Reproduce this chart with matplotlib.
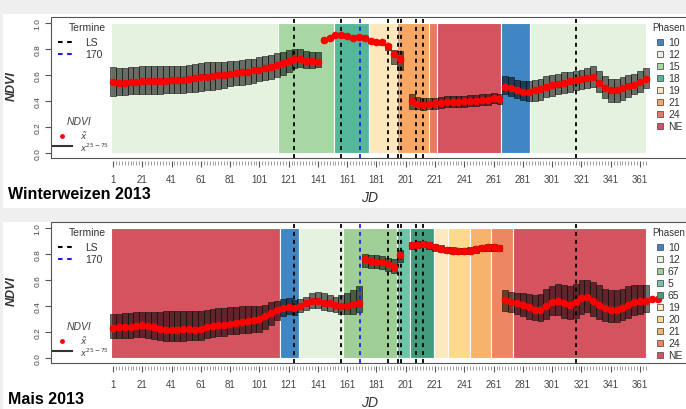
import numpy as np
import matplotlib
matplotlib.use("Agg")
import matplotlib.pyplot as plt
from matplotlib.patches import Rectangle
from matplotlib.lines import Line2D

# --- data ---------------------------------------------------------------
days = list(range(1, 366, 4))

ww_median = [.545, .54, .54, .545, .545, .55, .55, .55, .555, .555, .56, .56, .56, .565, .575, .58, .585, .59,
             .595, .60, .61, .615, .62, .625, .635, .64, .65, .66, .675, .69, .705, .725, .72, .71, .705, .70,
             .87, .885, .905, .91, .895, .885, .89, .88, .86, .855, .85, .82, .76, .72,
             np.nan,
             .40, .375, .37, .375, .38, .385, .39, .39, .39, .395, .40, .40, .405, .41, .42, .415,
             .51, .50, .48, .47, .47, .48, .49, .51, .52, .53, .54, .55, .56, .565, .575, .58, .54, .50, .48, .48,
             .50, .515, .52, .545, .57]
ww_q75 = [.66, .655, .655, .66, .66, .665, .665, .665, .665, .67, .67, .67, .67, .675, .685, .69, .695, .70,
          .70, .70, .705, .71, .715, .72, .725, .735, .745, .755, .765, .775, .79, .80, .80, .78, .775, .775,
          .885, .90, .92, .925, .91, .90, .905, .895, .875, .87, .865, .84, .79, .78,
          np.nan,
          .45, .43, .42, .42, .425, .43, .435, .44, .44, .44, .445, .445, .45, .455, .46, .455,
          .59, .58, .56, .55, .555, .56, .57, .59, .60, .61, .62, .625, .63, .64, .655, .665, .63, .59, .57, .57,
          .585, .60, .61, .63, .65]
ww_q25 = [.44, .445, .445, .45, .45, .45, .45, .455, .455, .46, .46, .46, .46, .465, .47, .475, .48, .485,
          .49, .50, .515, .52, .525, .53, .54, .55, .56, .57, .585, .60, .62, .655, .66, .655, .655, .66,
          .855, .87, .89, .895, .88, .87, .875, .865, .845, .84, .83, .79, .68, .64,
          np.nan,
          .34, .335, .33, .335, .34, .345, .35, .35, .35, .355, .36, .36, .365, .37, .38, .375,
          .45, .44, .42, .41, .40, .40, .41, .43, .44, .45, .46, .47, .48, .49, .50, .51, .47, .42, .39, .39,
          .41, .43, .45, .47, .50]

mais_median = [.23, .235, .235, .24, .245, .25, .245, .235, .225, .215, .215, .215, .22, .22, .215, .22, .235,
               .245, .25, .255, .26, .27, .275, .28, .29, .30, .32, .345, .37, .385, .39, .385, .40, .425, .44,
               .435, .425, .42, .41, .40, .40, .415, .425,
               .76, .745, .74, .735, .72, .70, .79,
               np.nan,
               .865, .87, .875, .865, .85, .84, .83, .825, .82, .82, .825, .835, .845, .85, .85, .845,
               .445, .43, .42, .41, .39, .37, .365, .40, .43, .44, .425, .41, .43, .46, .465, .44, .41, .38,
               .37, .365, .38, .41, .43, .44, .44]
mais_q75 = [.34, .34, .345, .345, .35, .35, .35, .35, .355, .36, .36, .36, .36, .36, .36, .36, .37, .375, .38,
            .385, .39, .39, .395, .395, .40, .40, .41, .43, .44, .45, .46, .445, .45, .47, .50, .51, .50, .48,
            .47, .48, .50, .52, .55,
            .80, .79, .79, .785, .77, .76, .83,
            np.nan,
            .89, .895, .90, .89, .875, .865, .855, .85, .845, .845, .85, .86, .87, .875, .875, .87,
            .52, .51, .50, .50, .49, .48, .49, .53, .55, .57, .56, .55, .57, .595, .60, .58, .56, .53, .52, .52,
            .53, .55, .56, .56, .56]
mais_q25 = [.15, .15, .15, .155, .16, .16, .155, .145, .135, .13, .13, .13, .13, .135, .135, .14, .15, .16,
            .165, .17, .18, .185, .19, .19, .20, .20, .22, .25, .29, .32, .34, .33, .35, .37, .38, .38, .37,
            .36, .35, .34, .34, .34, .35,
            .70, .69, .69, .68, .67, .65, .74,
            np.nan,
            .84, .845, .85, .84, .825, .815, .805, .80, .795, .795, .80, .81, .82, .825, .825, .82,
            .36, .35, .34, .32, .30, .29, .28, .30, .33, .33, .31, .30, .31, .34, .35, .32, .30, .28, .275, .275,
            .29, .31, .33, .34, .35]
mais_tail_days = [369, 373]
mais_tail_median = [.45, .45]

ls_dates = [125, 157, 189, 196, 198, 208, 213, 317]
blue_date = 170

ww_phase_start = [0, 114, 152, 176, 195, 217, 222, 266, 286]
ww_phase_end = [114, 152, 176, 195, 217, 222, 266, 286, 365]
ww_phase_name = ["12", "15", "18", "19", "21", "24", "NE", "10", "12"]
ww_legend = ["10", "12", "15", "18", "19", "21", "24", "NE"]
ww_colors = {"10": "#3f86c2", "12": "#e4f2df", "15": "#a9d7a3", "18": "#55b79a", "19": "#fde8be",
             "21": "#f7a763", "24": "#ea7862", "NE": "#d5525f"}

mais_phase_start = [0, 115, 128, 158, 195, 204, 220, 230, 245, 259, 274]
mais_phase_end = [115, 128, 158, 195, 204, 220, 230, 245, 259, 274, 365]
mais_phase_name = ["NE", "10", "12", "67", "5", "65", "19", "20", "21", "24", "NE"]
mais_legend = ["10", "12", "67", "5", "65", "19", "20", "21", "24", "NE"]
mais_colors = {"10": "#3f86c2", "12": "#e4f2df", "67": "#9fcf97", "5": "#6bc5a6", "65": "#449c7e",
               "19": "#fde9c0", "20": "#fcd98d", "21": "#f7b26b", "24": "#ed8663", "NE": "#d5525f"}

# --- figure -------------------------------------------------------------
W, H = 686, 410
NARROW = ["Liberation Sans Narrow", "Liberation Sans", "DejaVu Sans"]
REG = ["Liberation Sans", "DejaVu Sans"]
plt.rcParams["font.family"] = NARROW


def fx(px):
    return px / W


def fy(py):
    return 1 - py / H


fig = plt.figure(figsize=(W / 100, H / 100), dpi=100)
fig.patch.set_facecolor("#efefef")
fig.add_artist(Rectangle((fx(3), fy(209)), 1, fy(15) - fy(209), transform=fig.transFigure,
                         facecolor="white", edgecolor="none", zorder=-10))
fig.add_artist(Rectangle((fx(3), 0), 1, fy(223), transform=fig.transFigure,
                         facecolor="white", edgecolor="none", zorder=-10))


def panel(off, median, q25, q75, p_start, p_end, p_name, colors, legend_names, title):
    top, bottom = 18 + off, 159 + off
    ax = fig.add_axes([fx(51), fy(bottom), fx(720) - fx(51), fy(top) - fy(bottom)])
    ax.set_facecolor("white")
    ax.set_xlim(-41.3, 415.6)
    ax.set_ylim(-0.04, 1.045)

    for s, e, n in zip(p_start, p_end, p_name):
        ax.add_patch(Rectangle((s, 0), e - s, 1, facecolor=colors[n], edgecolor="white",
                               lw=0.8, zorder=1))

    lo = np.array(q25, dtype=float)
    hi = np.array(q75, dtype=float)
    ax.bar(days, hi - lo, bottom=lo, width=4, color=(0, 0, 0, 0.55), edgecolor="#111111",
           lw=0.4, zorder=2)

    for d in ls_dates:
        ax.axvline(d, color="black", ls=(0, (2.2, 2.2)), lw=1.3, zorder=3)
    ax.axvline(blue_date, color="#1f1fe6", ls=(0, (2.2, 2.2)), lw=1.3, zorder=3)

    ax.plot(days, median, "o", color="red", ms=5.5, mec="none", zorder=4)

    for sp in ax.spines.values():
        sp.set_visible(False)
    ax.spines["bottom"].set_position(("outward", 2.5))
    ax.add_patch(Rectangle((0, 0), 1, 1, transform=ax.transAxes, fill=False, ec="#555555",
                           lw=0.8, clip_on=False, zorder=5))

    ax.set_xticks(range(1, 362, 20))
    ax.set_xticks(range(1, 366, 2), minor=True)
    ax.tick_params(axis="x", which="major", length=4, width=0.8, color="#555555",
                   labelsize=7, labelcolor="#444444", pad=5)
    ax.tick_params(axis="x", which="minor", length=3, width=0.5, color="#777777")
    ax.set_yticks([0, 0.2, 0.4, 0.6, 0.8, 1.0])
    ax.set_yticklabels(["0.0", "0.2", "0.4", "0.6", "0.8", "1.0"], rotation=90, va="center",
                       fontsize=6, family=REG)
    ax.tick_params(axis="y", length=4, width=0.8, color="#555555", labelcolor="#444444", pad=3)

    # left legend
    fig.text(fx(69), fy(28 + off), "Termine", fontsize=7.5, color="#333333", va="center")
    fig.add_artist(Line2D([fx(58), fx(72)], [fy(43 + off)] * 2, color="black",
                          ls=(0, (2.2, 2.2)), lw=1.5))
    fig.add_artist(Line2D([fx(58), fx(72)], [fy(55 + off)] * 2, color="#1f1fe6",
                          ls=(0, (2.2, 2.2)), lw=1.5))
    fig.text(fx(85), fy(43 + off), "LS", fontsize=7.5, color="#333333", va="center")
    fig.text(fx(85), fy(55 + off), "170", fontsize=7.5, color="#333333", va="center")
    fig.text(fx(67), fy(122 + off), "NDVI", fontsize=7.5, color="#444444", va="center",
             style="italic")
    fig.add_artist(Line2D([fx(62)], [fy(137 + off)], marker="o", color="red", ms=3.5, mec="none"))
    fig.text(fx(80), fy(136 + off), r"$\tilde{x}$", fontsize=6.5, color="#444444", va="center")
    fig.add_artist(Line2D([fx(53), fx(72)], [fy(147 + off)] * 2, color="#333333", lw=1.5))
    fig.text(fx(80), fy(148 + off), r"$x^{25-75}$", fontsize=6, color="#444444", va="center")

    # right legend
    fig.text(fx(652), fy(28 + off), "Phasen", fontsize=7, color="#333333", va="center")
    for i, n in enumerate(legend_names):
        yy = fy(43 + off + 12 * i)
        fig.add_artist(Line2D([fx(660)], [yy], marker="s", ms=5, color=colors[n], mec="#555555",
                              mew=0.6))
        fig.text(fx(668), yy, n, fontsize=7.5, color="#333333", va="center")

    fig.text(fx(12), fy(86 + off), "NDVI", rotation=90, fontsize=9, fontweight="bold",
             style="italic", color="#333333", ha="center", va="center", family=REG)
    fig.text(fx(370), fy(198 + off), "JD", fontsize=10, style="italic", color="#333333",
             ha="center", va="center")
    fig.text(fx(8), fy(199 + off), title, fontsize=11.5, fontweight="bold", color="black",
             va="baseline")
    return ax


panel(0, ww_median, ww_q25, ww_q75, ww_phase_start, ww_phase_end, ww_phase_name, ww_colors,
      ww_legend, "Winterweizen 2013")
ax2 = panel(205, mais_median, mais_q25, mais_q75, mais_phase_start, mais_phase_end, mais_phase_name,
            mais_colors, mais_legend, "Mais 2013")
ax2.plot(mais_tail_days, mais_tail_median, "o", color="red", ms=5.5, mec="none", zorder=4,
         clip_on=False)

fig.savefig("out.png", dpi=100, facecolor=fig.get_facecolor())
